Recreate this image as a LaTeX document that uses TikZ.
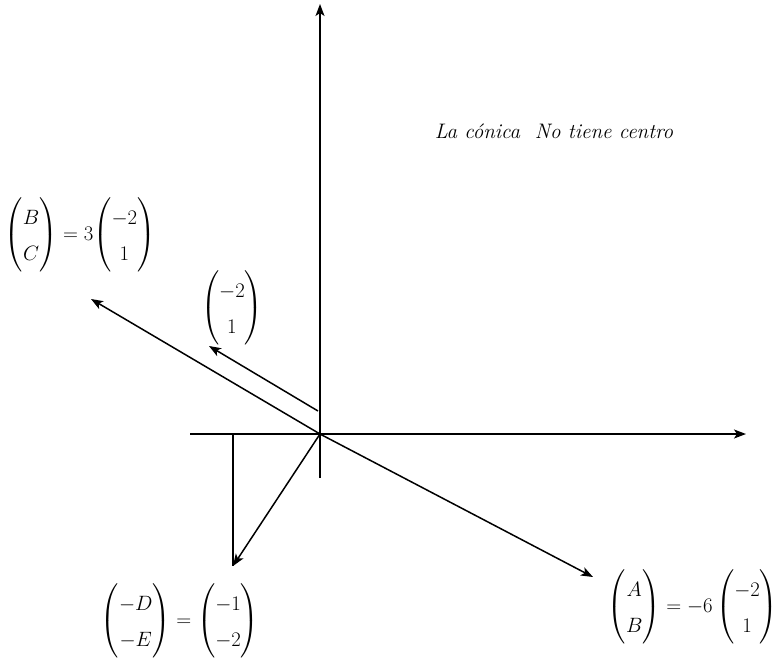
\documentclass[tikz,border=0pt]{standalone}
\usepackage{amsmath}
\usetikzlibrary{arrows.meta}
\begin{document}
\begin{tikzpicture}[x=1pt,y=-1pt,
  ax/.style={line width=1.5pt,-{Stealth[length=12pt,width=9pt,inset=3pt]}},
  ln/.style={line width=1.5pt},
  lbl/.style={inner sep=0pt,font=\fontsize{21}{25}\selectfont}]
\useasboundingbox (0,0) rectangle (782,659);
\renewcommand{\arraystretch}{1.45}
\coordinate (O) at (320,434);
\coordinate (ybot) at (320,478);
\coordinate (ytop) at (320,4);
\coordinate (xl) at (190,434);
\coordinate (xr) at (746,434);
\coordinate (L) at (91,299);
\coordinate (R) at (593,577);
\coordinate (s1) at (318,411);
\coordinate (s2) at (209,346);
\coordinate (f) at (233,434);
\coordinate (g) at (233,566);
\draw[ax] (ybot) -- (ytop);
\draw[ax] (xl) -- (xr);
\draw[ax] (O) -- (L);
\draw[ax] (O) -- (R);
\draw[ax] (s1) -- (s2);
\draw[ln] (f) -- (g);
\draw[ax] (O) -- (g);
\node[lbl] (t) at (554,131) {\itshape La cónica\ \ No tiene centro};
\node[lbl] (bc) at (80,235) {$\begin{pmatrix}B\\C\end{pmatrix}=3\!\begin{pmatrix}-2\\1\end{pmatrix}$};
\node[lbl] (v) at (232,308) {$\begin{pmatrix}-2\\1\end{pmatrix}$};
\node[lbl] (ab) at (693,607) {$\begin{pmatrix}A\\B\end{pmatrix}=-6\begin{pmatrix}-2\\1\end{pmatrix}$};
\node[lbl] (de) at (180,621) {$\begin{pmatrix}-D\\-E\end{pmatrix}=\begin{pmatrix}-1\\-2\end{pmatrix}$};
\end{tikzpicture}
\end{document}
